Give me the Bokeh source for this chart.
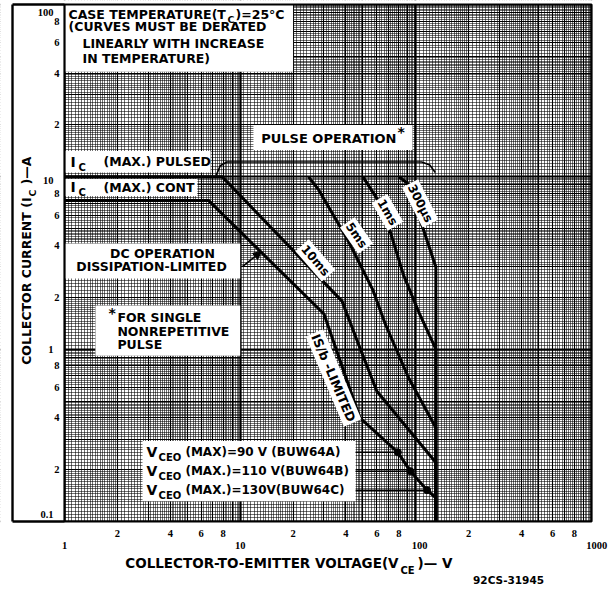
from bokeh.plotting import figure
from bokeh.models import (Grid, FixedTicker, Label, LabelSet, ColumnDataSource,
                          Arrow, NormalHead)
from bokeh.embed import file_html
from bokeh.resources import INLINE

# ---------------- data ----------------
# DC operation (dissipation limited, then IS/b limited, then VCEO)
dc_v = [1, 6.6, 30, 48, 79, 93, 116, 130, 130]
dc_i = [7.3, 7.3, 1.6, 0.40, 0.252, 0.196, 0.152, 0.137, 0.1]
# 10 ms pulse (starts on IC(max) pulsed line)
ms10_v = [1, 7.9, 38, 48, 60, 130, 130]
ms10_i = [10, 10, 1.9, 1.02, 0.57, 0.22, 0.1]
# 5 ms pulse
ms5_v = [24.5, 28, 41, 57, 67, 91, 130, 130]
ms5_i = [10, 8.4, 4.3, 2.2, 1.4, 0.68, 0.35, 0.1]
# 1 ms pulse
ms1_v = [50, 65, 85, 105, 130, 130]
ms1_i = [10, 6.6, 2.7, 1.6, 1.0, 0.1]
# 300 us pulse
us300_v = [80, 92, 106, 130, 130]
us300_i = [10, 9.0, 5.6, 3.0, 0.1]
# "pulse operation" bracket
bracket_v = [7.3, 7.7, 8.4, 108, 120, 129]
bracket_i = [10.2, 11.6, 12.2, 12.2, 11.7, 10.6]
# VCEO(max) markers on the DC curve
vceo_dot_v = [79, 93, 116]
vceo_i = [0.252, 0.196, 0.152]

# axis limits of the chart area
X_MIN, X_MAX = 1, 1000
Y_MIN, Y_MAX = 0.1, 100

# ticks / grid
decades = [1, 10, 100]
x_major = [k * d for d in decades for k in range(1, 10)] + [1000]
y_major = [k * d / 10 for d in decades for k in range(1, 10)] + [100]
sub = ([round(1 + 0.05 * k, 2) for k in range(1, 20)] +
       [round(2 + 0.1 * k, 2) for k in range(1, 30) if k % 10] +
       [round(5 + 0.2 * k, 2) for k in range(1, 25) if k % 5])
x_minor = [s * d for d in decades for s in sub]
y_minor = [s * d / 10 for d in decades for s in sub]
x_decade = [1, 10, 100, 1000]
y_decade = [0.1, 1, 10, 100]

x_digit_ticks = [2, 4, 6, 8, 20, 40, 60, 80, 200, 400, 600, 800]
x_digit_text = ["2", "4", "6", "8"] * 3
x_decade_text = ["1", "10", "100", "1000"]
x_decade_label_at = [1, 10, 105, 1070]
y_digit_ticks = [0.2, 0.4, 0.6, 0.8, 2, 4, 6, 8, 20, 40, 60, 80]
y_digit_text = ["2", "4", "6", "8"] * 3
y_decade_text = ["0.1", "1", "10", "100"]
y_decade_label_at = [0.1098, 1, 9.52, 89.9]

FONT = "DejaVu Sans"

# the canvas shows the whole sheet; the chart area spans X_MIN..X_MAX, Y_MIN..Y_MAX
XR = (0.43213, 1316.6)
YR = (0.040306, 105.49)

p = figure(width=612, height=589, x_axis_type="log", y_axis_type="log",
           x_range=XR, y_range=YR,
           x_axis_location=None, y_axis_location=None,
           toolbar_location=None, output_backend="svg", min_border=0,
           outline_line_color=None, background_fill_color="white",
           border_fill_color="white")

# graph-paper grid
p.add_layout(Grid(dimension=0, ticker=FixedTicker(ticks=x_major, minor_ticks=x_minor),
                  grid_line_color="black", grid_line_alpha=1.0, grid_line_width=1.1,
                  minor_grid_line_color="black", minor_grid_line_alpha=0.7,
                  minor_grid_line_width=0.8))
p.add_layout(Grid(dimension=1, ticker=FixedTicker(ticks=y_major, minor_ticks=y_minor),
                  grid_line_color="black", grid_line_alpha=1.0, grid_line_width=1.1,
                  minor_grid_line_color="black", minor_grid_line_alpha=0.7,
                  minor_grid_line_width=0.8))
p.add_layout(Grid(dimension=0, ticker=FixedTicker(ticks=x_decade),
                  grid_line_color="black", grid_line_width=2.2))
p.add_layout(Grid(dimension=1, ticker=FixedTicker(ticks=y_decade),
                  grid_line_color="black", grid_line_width=2.2))

# white margins around the chart area (extend well past the visible range)
FAR_LO, FAR_HI = 1e-4, 1e5
p.quad(left=[FAR_LO, X_MAX, FAR_LO, FAR_LO], right=[X_MIN, FAR_HI, FAR_HI, FAR_HI],
       bottom=[FAR_LO, FAR_LO, Y_MAX, FAR_LO], top=[FAR_HI, FAR_HI, FAR_HI, Y_MIN],
       fill_color="white", line_color=None)

# white text boxes inside the chart
p.quad(left=[1, 11.9, 1, 1, 1, 1.5, 2.78],
       right=[20.0, 95.7, 6.78, 5.71, 10, 10, 45.4],
       bottom=[40.7, 14.3, 10.6, 7.75, 2.57, 0.916, 0.131],
       top=[100, 20.0, 14.1, 9.7, 4.11, 1.79, 0.293],
       fill_color="white", line_color=None)

# curves
for xs, ys in [(dc_v, dc_i), (ms10_v, ms10_i), (ms5_v, ms5_i),
               (ms1_v, ms1_i), (us300_v, us300_i)]:
    p.line(xs, ys, line_width=3, color="black", line_join="round")
p.line(bracket_v, bracket_i, line_width=1.6, color="black", line_join="round")

p.segment(x0=[45.4] * 3, y0=vceo_i, x1=vceo_dot_v, y1=vceo_i,
          line_width=1.5, color="black")
p.scatter(vceo_dot_v, vceo_i, size=7, color="black")

p.add_layout(Arrow(end=NormalHead(size=8, fill_color="black", line_color="black"),
                   x_start=10.3, y_start=3.01, x_end=13.2, y_end=3.69,
                   line_width=1.5, line_color="black"))

# chart border and the box enclosing the current scale
p.quad(left=[X_MIN], right=[X_MAX], bottom=[Y_MIN], top=[Y_MAX],
       fill_color=None, line_color="black", line_width=2.2)
OUTER_X = 0.5058
p.segment(x0=[OUTER_X, OUTER_X, OUTER_X], y0=[Y_MAX, Y_MIN, Y_MAX],
          x1=[X_MIN, X_MIN, OUTER_X], y1=[Y_MAX, Y_MIN, Y_MIN],
          line_color="black", line_width=2.4)


def lab(x, y, text, size="12.5px", align="left", baseline="middle", angle=0, bg=None):
    kw = {}
    if bg:
        kw = dict(background_fill_color=bg, padding=2)
    p.add_layout(Label(x=x, y=y, text=text, text_font=FONT, text_font_style="bold",
                       text_font_size=size, text_align=align, text_baseline=baseline,
                       angle=angle, angle_units="deg", text_color="black", **kw))


# case temperature note
lab(1.054, 87.3, "CASE TEMPERATURE(T")
lab(8.47, 82.0, "C", size="9.5px")
lab(9.41, 87.3, ")=25°C")
lab(1.054, 74.3, "(CURVES MUST BE DERATED")
lab(1.266, 59.4, "LINEARLY WITH INCREASE")
lab(1.266, 48.5, "IN TEMPERATURE)")

lab(77.6, 16.6, "PULSE OPERATION", size="13px", align="right")
lab(78.6, 18.3, "*", size="14px")

lab(1.082, 12.2, "I", size="14px")
lab(1.20, 11.4, "C", size="10px")
lab(1.667, 12.2, "(MAX.) PULSED")
lab(1.082, 8.69, "I", size="14px")
lab(1.20, 8.13, "C", size="10px")
lab(1.667, 8.69, "(MAX.) CONT")

lab(3.61, 3.59, "DC OPERATION", align="center")
lab(3.13, 3.01, "DISSIPATION-LIMITED", align="center")

lab(1.78, 1.63, "*", size="14px")
lab(2.0, 1.52, "FOR SINGLE")
lab(2.0, 1.26, "NONREPETITIVE")
lab(2.0, 1.06, "PULSE")

vceo_text = ["(MAX)=90 V (BUW64A)", "(MAX.)=110 V(BUW64B)", "(MAX.)=130V(BUW64C)"]
vceo_sub_at = [0.236, 0.183, 0.1417]
for t, yv, ys in zip(vceo_text, vceo_i, vceo_sub_at):
    lab(2.93, yv, "V", size="14px")
    lab(3.43, ys, "CEO", size="10px")
    lab(4.88, yv, t, size="12px")

# curve labels
lab(26.8, 3.27, "10ms", size="12px", align="center", angle=-49, bg="white")
lab(45.9, 4.57, "5ms", size="12px", align="center", angle=-55, bg="white")
lab(69, 6.22, "1ms", size="12px", align="center", angle=-60, bg="white")
lab(106, 7.01, "300µs", size="12px", align="center", angle=-63, bg="white")
lab(34, 0.681, "IS/b -LIMITED", size="12.5px", align="center", angle=-67, bg="white")

# tick labels
tick_style = dict(text_font=FONT, text_font_style="bold", text_font_size="10.5px",
                  text_baseline="middle", text_color="black")
p.add_layout(LabelSet(x="x", y="y", text="t", text_align="center", source=ColumnDataSource(
    dict(x=x_digit_ticks, y=[0.0852] * len(x_digit_ticks), t=x_digit_text)), **tick_style))
p.add_layout(LabelSet(x="x", y="y", text="t", text_align="center", source=ColumnDataSource(
    dict(x=x_decade_label_at, y=[0.0726] * len(x_decade), t=x_decade_text)), **tick_style))
p.add_layout(LabelSet(x="x", y="y", text="t", text_align="right", source=ColumnDataSource(
    dict(x=[0.9366] * len(y_digit_ticks), y=y_digit_ticks, t=y_digit_text)), **tick_style))
p.add_layout(LabelSet(x="x", y="y", text="t", text_align="right", source=ColumnDataSource(
    dict(x=[0.866] * len(y_decade), y=y_decade_label_at, t=y_decade_text)), **tick_style))

# axis titles
lab(79.7, 0.0571, "COLLECTOR-TO-EMITTER VOLTAGE(V", size="13.5px", align="right")
lab(81.8, 0.0520, "CE", size="10px")
lab(102.2, 0.0571, ")— V", size="13.5px")
lab(337, 0.04546, "92CS-31945", size="10.5px", align="center")

lab(0.6077, 7.59, "COLLECTOR CURRENT (I", size="12.5px", align="right", angle=90)
lab(0.657, 7.68, "C", size="9.5px", angle=90)
lab(0.6077, 9.03, ")—A", size="12.5px", angle=90)

open("out.html", "w").write(file_html(p, INLINE))
